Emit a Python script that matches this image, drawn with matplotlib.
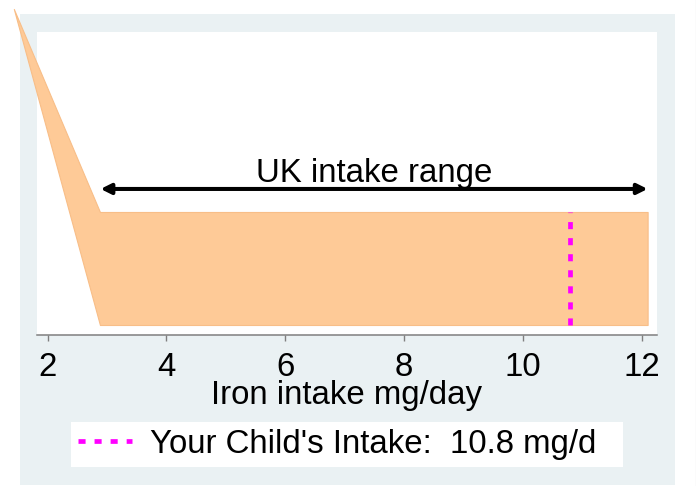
import matplotlib
matplotlib.use("Agg")
import matplotlib.pyplot as plt
from matplotlib.patches import Rectangle
from matplotlib.lines import Line2D

plt.rcParams['font.family'] = ['Liberation Sans', 'DejaVu Sans']

# data
area_x = [1.43, 2.88, 12.1]
area_low = [1.076, 0.033, 0.033]
area_high = [1.076, 0.406, 0.406]
range_lo = 2.89
range_hi = 12.1
range_y = 0.482
child_intake = 10.8
x_ticks = [2, 4, 6, 8, 10, 12]

FS = 23.8
W, H = 696, 486
fig = plt.figure(figsize=(W / 100, H / 100), dpi=100)
fig.patch.set_facecolor('white')


def fx(px):
    return px / W


def fy(py):
    return 1 - py / H


# stata-like graph region
fig.patches.append(Rectangle((fx(20), fy(485)), fx(655), 471 / H,
                             transform=fig.transFigure, facecolor='#EAF1F3',
                             edgecolor='none', zorder=-10))
fig.lines.append(Line2D([fx(695.5), fx(695.5)], [0, 1], transform=fig.transFigure,
                        color='#BBBBBB', lw=0.8, zorder=-10))
# legend box
fig.patches.append(Rectangle((fx(71), fy(467)), fx(552), 45 / H,
                             transform=fig.transFigure, facecolor='white',
                             edgecolor='none', zorder=-5))

ax = fig.add_axes([fx(37), fy(335), fx(620), 303 / H])
ax.set_facecolor('white')

ax.fill_between(area_x, area_low, area_high, facecolor='#FECA97',
                edgecolor='#F8BE88', lw=0.8, clip_on=False, zorder=2)

ax.annotate('', xy=(range_hi, range_y), xytext=(range_lo, range_y),
            arrowprops=dict(arrowstyle='<|-|>,head_length=0.6,head_width=0.3',
                            lw=2.9, color='black', shrinkA=0, shrinkB=0,
                            mutation_scale=10), zorder=4)
ax.text((range_lo + range_hi) / 2, 0.505, 'UK intake range', ha='center',
        va='baseline', fontsize=FS, color='black')

ax.plot([child_intake, child_intake], [area_low[1], area_high[1]], color='#FF00FF',
        lw=3.4, linestyle=(0, (1.5, 1.9)), solid_capstyle='butt',
        dash_capstyle='butt', label="Your Child's Intake:  10.8 mg/d", zorder=3)

ax.set_xlim(1.82, 12.258)
ax.set_ylim(0, 1)
ax.set_xticks(x_ticks)
ax.set_xticklabels([str(t) for t in x_ticks])
ax.set_yticks([])
for s in ['top', 'left', 'right']:
    ax.spines[s].set_visible(False)
ax.spines['bottom'].set_color('#7F7F7F')
ax.spines['bottom'].set_linewidth(1.1)
ax.tick_params(axis='x', direction='out', length=4.5, width=1.0, color='#7F7F7F',
               labelsize=FS, pad=7.5)
ax.set_xlabel('Iron intake mg/day', fontsize=FS, labelpad=-2)

fig.legend(loc='center left', bbox_to_anchor=(fx(78), fy(444.5)),
           bbox_transform=fig.transFigure, frameon=False, fontsize=FS,
           handlelength=54 / (FS * 100 / 72), handletextpad=18 / (FS * 100 / 72),
           borderpad=0, borderaxespad=0)

fig.savefig('out.png', dpi=100)
